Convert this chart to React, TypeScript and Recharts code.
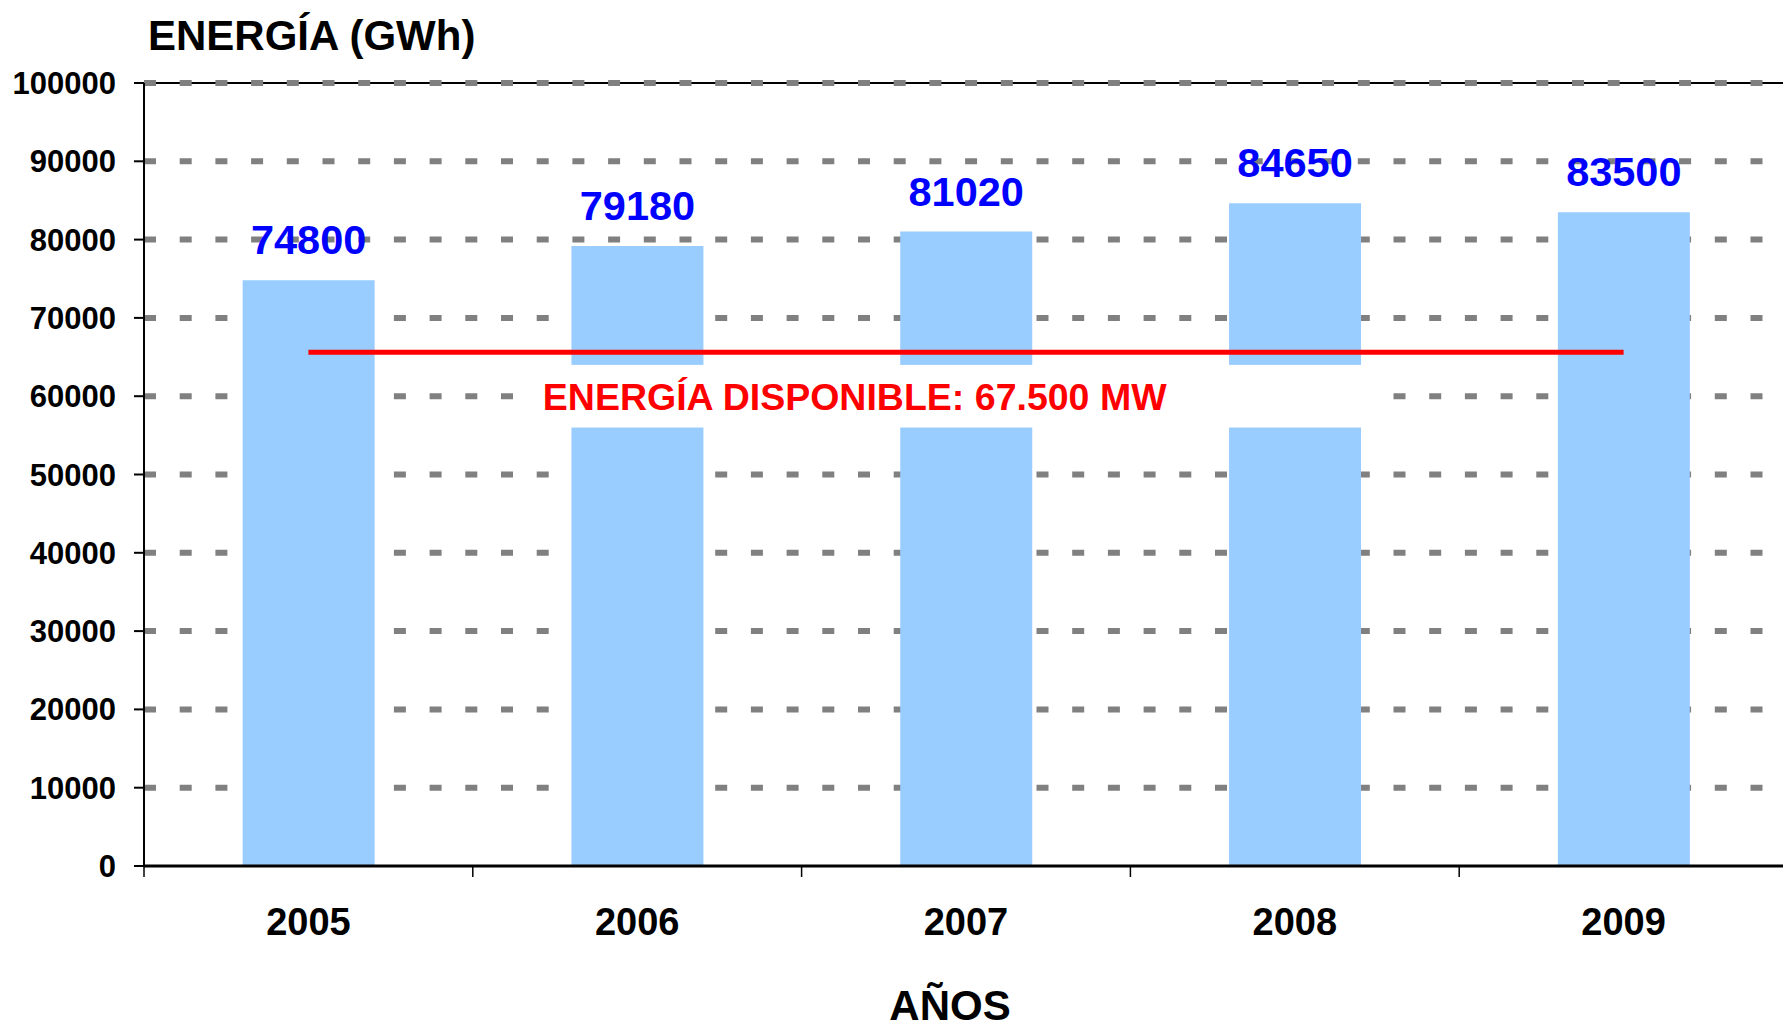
import React from "react";
import {
  ComposedChart,
  Bar,
  Line,
  XAxis,
  YAxis,
  CartesianGrid,
  LabelList,
  Label,
  ReferenceArea,
  ReferenceLine,
} from "recharts";

const years = ["2005", "2006", "2007", "2008", "2009"];
const energia = [74800, 79180, 81020, 84650, 83500];
// red "available energy" level (~65.6k on the scale)
const disponible = [65600, 65600, 65600, 65600, 65600];
const yTicks = [0, 10000, 20000, 30000, 40000, 50000, 60000, 70000, 80000, 90000, 100000];

const data = years.map((year, i) => ({
  year,
  energia: energia[i],
  disponible: disponible[i],
}));

const FONT = '"Liberation Sans", Arial, sans-serif';
const W = 1800;
const H = 1030;
const M = { top: 83, right: 12, left: 0, bottom: 0 };
const Y_W = 144;
const X_H = 164;
const BAND = (W - M.right - M.left - Y_W) / years.length;

function YearTick(props: any) {
  const { x, y, payload } = props;
  const axisY = y - 42;
  const bx = x - BAND / 2;
  return (
    <g>
      <line x1={bx} y1={axisY} x2={bx} y2={axisY + 11} stroke="#000" strokeWidth={1.5} />
      <text
        x={x}
        y={y}
        dy="0.71em"
        textAnchor="middle"
        fill="#000"
        fontSize={38}
        fontWeight={700}
        fontFamily={FONT}
      >
        {payload.value}
      </text>
    </g>
  );
}

// white band behind the red caption, a little narrower than the 2006..2008 bands
function WhiteBox(props: any) {
  const { x, y, width, height } = props;
  return <rect x={x + 48} y={y} width={width - 116} height={height} fill="#fff" />;
}

export default function App() {
  return (
    <div
      style={{
        position: "absolute",
        left: 0,
        top: 0,
        width: 1783,
        height: 1030,
        overflow: "hidden",
        background: "#fff",
        fontFamily: FONT,
      }}
    >
      <div
        style={{
          position: "absolute",
          left: 148,
          top: 15,
          fontSize: 42,
          lineHeight: "42px",
          fontWeight: 700,
          color: "#000",
          whiteSpace: "nowrap",
        }}
      >
        ENERGÍA (GWh)
      </div>
      <ComposedChart width={W} height={H} data={data} margin={M} barCategoryGap="30%">
        <ReferenceLine y={100000} stroke="#000" strokeWidth={2} zIndex={-150} />
        <CartesianGrid
          vertical={false}
          stroke="#808080"
          strokeWidth={6}
          strokeDasharray="12 23.7"
          horizontalValues={yTicks.slice(1)}
        />
        <YAxis
          width={Y_W}
          domain={[0, 100000]}
          ticks={yTicks}
          interval={0}
          axisLine={{ stroke: "#000", strokeWidth: 2 }}
          tickLine={{ stroke: "#000", strokeWidth: 2 }}
          tickSize={10}
          tickMargin={18}
          tick={{ fill: "#000", fontSize: 31, fontWeight: 700, fontFamily: FONT }}
        />
        <XAxis
          dataKey="year"
          height={X_H}
          interval={0}
          axisLine={{ stroke: "#000", strokeWidth: 3 }}
          tickLine={false}
          tickSize={0}
          tickMargin={42}
          tick={<YearTick />}
        >
          <Label
            value="AÑOS"
            position="insideBottom"
            offset={10}
            dx={-16}
            fill="#000"
            fontSize={42}
            fontWeight={700}
            fontFamily={FONT}
          />
        </XAxis>
        <Bar dataKey="energia" fill="#99CCFF" isAnimationActive={false}>
          <LabelList
            dataKey="energia"
            position="top"
            offset={26}
            fill="#0000FF"
            fontSize={41.5}
            fontWeight={700}
            fontFamily={FONT}
          />
        </Bar>
        <ReferenceArea
          x1="2006"
          x2="2008"
          y1={56000}
          y2={64000}
          shape={<WhiteBox />}
          zIndex={350}
        >
          <Label
            value="ENERGÍA DISPONIBLE: 67.500 MW"
            position="insideLeft"
            offset={70}
            fill="#FF0000"
            fontSize={37.5}
            fontWeight={700}
            fontFamily={FONT}
          />
        </ReferenceArea>
        <Line
          type="linear"
          dataKey="disponible"
          stroke="#FF0000"
          strokeWidth={5}
          dot={false}
          activeDot={false}
          isAnimationActive={false}
        />
      </ComposedChart>
    </div>
  );
}
